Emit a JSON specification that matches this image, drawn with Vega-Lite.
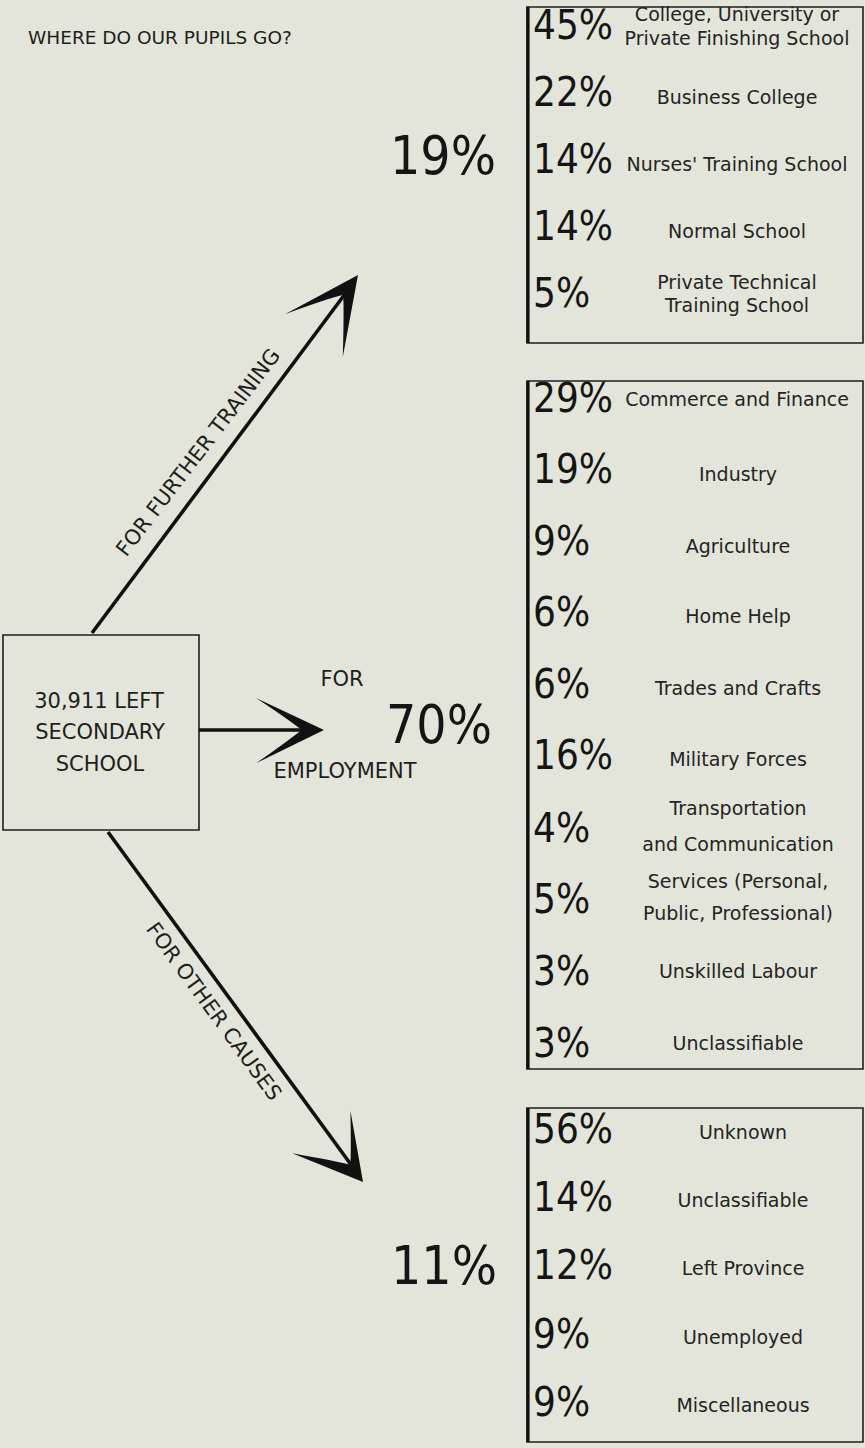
{
  "$schema": "https://vega.github.io/schema/vega-lite/v6.json",
  "width": 865,
  "height": 1448,
  "autosize": {"type": "fit", "contains": "padding"},
  "padding": 0,
  "background": "#e4e5da",
  "config": {"view": {"stroke": null}},
  "encoding": {
    "x": {"field": "x", "type": "quantitative", "scale": {"domain": [0, 865], "nice": false, "zero": false}, "axis": null},
    "y": {"field": "y", "type": "quantitative", "scale": {"domain": [0, 1448], "nice": false, "zero": false, "reverse": true}, "axis": null}
  },
  "layer": [
    {
      "data": {"values": [
        {"box": "source", "x": 3, "x2": 199, "y": 635, "y2": 830},
        {"box": "training", "x": 527, "x2": 863, "y": 7, "y2": 343},
        {"box": "employment", "x": 527, "x2": 863, "y": 381, "y2": 1069},
        {"box": "other", "x": 527, "x2": 863, "y": 1108, "y2": 1442}
      ]},
      "mark": {"type": "rect", "fill": null, "stroke": "#1e1e1e", "strokeWidth": 1.6},
      "encoding": {"x2": {"field": "x2"}, "y2": {"field": "y2"}}
    },
    {
      "data": {"values": [
        {"box": "training", "x": 528, "y": 7, "y2": 343},
        {"box": "employment", "x": 528, "y": 381, "y2": 1069},
        {"box": "other", "x": 528, "y": 1108, "y2": 1442}
      ]},
      "mark": {"type": "rule", "stroke": "#111", "strokeWidth": 3.2},
      "encoding": {"y2": {"field": "y2"}}
    },
    {
      "data": {"values": [
        {"flow": "training", "x": 92, "y": 633, "x2": 345, "y2": 294},
        {"flow": "employment", "x": 199, "y": 730, "x2": 302, "y2": 730},
        {"flow": "other", "x": 108, "y": 832, "x2": 352, "y2": 1166}
      ]},
      "mark": {"type": "rule", "stroke": "#111", "strokeWidth": 3.6},
      "encoding": {"x2": {"field": "x2"}, "y2": {"field": "y2"}}
    },
    {
      "data": {"values": [{"flow": "training", "x": 358, "y": 275}]},
      "mark": {"type": "point", "shape": "M0,0 L-1,-0.47 Q-0.5,-0.14 -0.33,0 Q-0.5,0.14 -1,0.49 Z", "size": 22500, "filled": true, "color": "#111", "opacity": 1, "strokeWidth": 0, "angle": -53.4}
    },
    {
      "data": {"values": [{"flow": "employment", "x": 324, "y": 730}]},
      "mark": {"type": "point", "shape": "M0,0 L-1,-0.47 Q-0.5,-0.14 -0.33,0 Q-0.5,0.14 -1,0.49 Z", "size": 18496, "filled": true, "color": "#111", "opacity": 1, "strokeWidth": 0, "angle": 0}
    },
    {
      "data": {"values": [{"flow": "other", "x": 363, "y": 1182}]},
      "mark": {"type": "point", "shape": "M0,0 L-1,-0.49 Q-0.5,-0.14 -0.33,0 Q-0.5,0.14 -1,0.62 Z", "size": 16900, "filled": true, "color": "#111", "opacity": 1, "strokeWidth": 0, "angle": 53.9}
    },
    {
      "data": {"values": [{"x": 28, "y": 38, "text": "WHERE DO OUR PUPILS GO?"}]},
      "mark": {"type": "text", "align": "left", "baseline": "middle", "font": "DejaVu Sans", "fontSize": 18.5, "color": "#1e1e1e"},
      "encoding": {"text": {"field": "text"}}
    },
    {
      "data": {"values": [
        {"x": 99, "y": 702, "text": "30,911 LEFT"},
        {"x": 100, "y": 733, "text": "SECONDARY"},
        {"x": 100, "y": 765, "text": "SCHOOL"},
        {"x": 342, "y": 680, "text": "FOR"},
        {"x": 345, "y": 772, "text": "EMPLOYMENT"}
      ]},
      "mark": {"type": "text", "align": "center", "baseline": "middle", "font": "DejaVu Sans", "fontSize": 21, "color": "#1e1e1e"},
      "encoding": {"text": {"field": "text"}}
    },
    {
      "data": {"values": [{"x": 199, "y": 453, "text": "FOR FURTHER TRAINING"}]},
      "mark": {"type": "text", "align": "center", "baseline": "middle", "font": "DejaVu Sans", "fontSize": 21, "color": "#1e1e1e", "angle": -52.5},
      "encoding": {"text": {"field": "text"}}
    },
    {
      "data": {"values": [{"x": 213, "y": 1012, "text": "FOR OTHER CAUSES"}]},
      "mark": {"type": "text", "align": "center", "baseline": "middle", "font": "DejaVu Sans", "fontSize": 21, "color": "#1e1e1e", "angle": 54},
      "encoding": {"text": {"field": "text"}}
    },
    {
      "data": {"values": [
        {"x": 443, "y": 158, "text": "19%"},
        {"x": 439, "y": 727, "text": "70%"},
        {"x": 444, "y": 1268, "text": "11%"}
      ]},
      "mark": {"type": "text", "align": "center", "baseline": "middle", "font": "DejaVu Sans Condensed, Liberation Sans Narrow, Arial Narrow, DejaVu Sans, sans-serif", "fontSize": 53, "color": "#151515"},
      "encoding": {"text": {"field": "text"}}
    },
    {
      "data": {"values": [
        {"group": "training", "x": 533, "y": 27, "text": "45%"},
        {"group": "training", "x": 533, "y": 94, "text": "22%"},
        {"group": "training", "x": 533, "y": 161, "text": "14%"},
        {"group": "training", "x": 533, "y": 228, "text": "14%"},
        {"group": "training", "x": 533, "y": 295, "text": "5%"},
        {"group": "employment", "x": 533, "y": 400, "text": "29%"},
        {"group": "employment", "x": 533, "y": 471, "text": "19%"},
        {"group": "employment", "x": 533, "y": 543, "text": "9%"},
        {"group": "employment", "x": 533, "y": 614, "text": "6%"},
        {"group": "employment", "x": 533, "y": 686, "text": "6%"},
        {"group": "employment", "x": 533, "y": 757, "text": "16%"},
        {"group": "employment", "x": 533, "y": 830, "text": "4%"},
        {"group": "employment", "x": 533, "y": 901, "text": "5%"},
        {"group": "employment", "x": 533, "y": 973, "text": "3%"},
        {"group": "employment", "x": 533, "y": 1045, "text": "3%"},
        {"group": "other", "x": 533, "y": 1131, "text": "56%"},
        {"group": "other", "x": 533, "y": 1199, "text": "14%"},
        {"group": "other", "x": 533, "y": 1267, "text": "12%"},
        {"group": "other", "x": 533, "y": 1336, "text": "9%"},
        {"group": "other", "x": 533, "y": 1404, "text": "9%"}
      ]},
      "mark": {"type": "text", "align": "left", "baseline": "middle", "font": "DejaVu Sans Condensed, Liberation Sans Narrow, Arial Narrow, DejaVu Sans, sans-serif", "fontSize": 40, "color": "#151515"},
      "encoding": {"text": {"field": "text"}}
    },
    {
      "data": {"values": [
        {"x": 737, "y": 15, "text": "College, University or"},
        {"x": 737, "y": 39, "text": "Private Finishing School"},
        {"x": 737, "y": 98, "text": "Business College"},
        {"x": 737, "y": 165, "text": "Nurses' Training School"},
        {"x": 737, "y": 232, "text": "Normal School"},
        {"x": 737, "y": 283, "text": "Private Technical"},
        {"x": 737, "y": 306, "text": "Training School"},
        {"x": 737, "y": 400, "text": "Commerce and Finance"},
        {"x": 738, "y": 475, "text": "Industry"},
        {"x": 738, "y": 547, "text": "Agriculture"},
        {"x": 738, "y": 617, "text": "Home Help"},
        {"x": 738, "y": 689, "text": "Trades and Crafts"},
        {"x": 738, "y": 760, "text": "Military Forces"},
        {"x": 738, "y": 809, "text": "Transportation"},
        {"x": 738, "y": 845, "text": "and Communication"},
        {"x": 738, "y": 882, "text": "Services (Personal,"},
        {"x": 738, "y": 914, "text": "Public, Professional)"},
        {"x": 738, "y": 972, "text": "Unskilled Labour"},
        {"x": 738, "y": 1044, "text": "Unclassifiable"},
        {"x": 743, "y": 1133, "text": "Unknown"},
        {"x": 743, "y": 1201, "text": "Unclassifiable"},
        {"x": 743, "y": 1269, "text": "Left Province"},
        {"x": 743, "y": 1338, "text": "Unemployed"},
        {"x": 743, "y": 1406, "text": "Miscellaneous"}
      ]},
      "mark": {"type": "text", "align": "center", "baseline": "middle", "font": "DejaVu Sans", "fontSize": 19, "color": "#242424"},
      "encoding": {"text": {"field": "text"}}
    }
  ]
}
